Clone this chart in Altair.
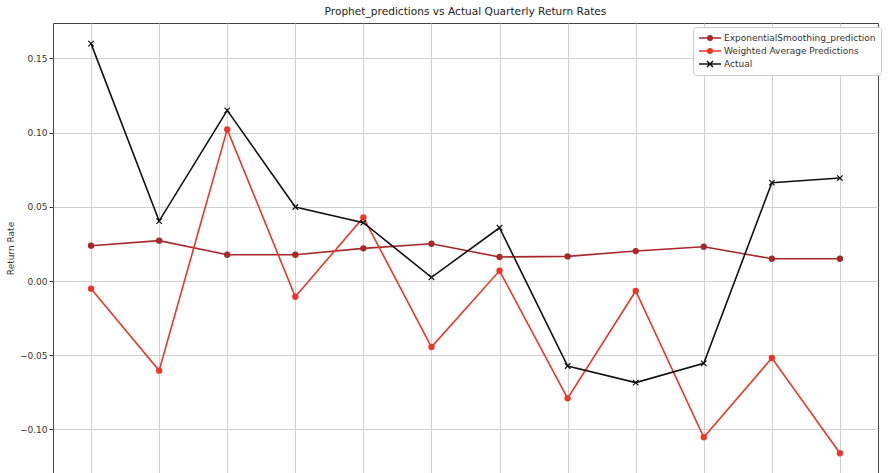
import altair as alt
import pandas as pd

quarters = list(range(12))
exp_smoothing = [0.0238, 0.0272, 0.0177, 0.0177, 0.0220, 0.0251, 0.0162, 0.0166, 0.0202, 0.0231, 0.0150, 0.0150]
weighted_avg = [-0.0052, -0.0604, 0.1022, -0.0106, 0.0429, -0.0445, 0.0069, -0.0791, -0.0067, -0.1053, -0.0519, -0.1161]
actual = [0.160, 0.0404, 0.115, 0.0499, 0.0393, 0.0025, 0.0359, -0.0573, -0.0685, -0.0555, 0.0663, 0.0694]

series_names = ["ExponentialSmoothing_prediction", "Weighted Average Predictions", "Actual"]
series_colors = ["#a8282a", "#ee3529", "#111111"]
y_ticks = [-0.10, -0.05, 0.0, 0.05, 0.10, 0.15]

rows = []
for name, vals in zip(series_names, [exp_smoothing, weighted_avg, actual]):
    for q, v in zip(quarters, vals):
        rows.append({"quarter": q, "value": v, "series": name})
df = pd.DataFrame(rows)

FONT = "DejaVu Sans"

x_enc = alt.X("quarter:Q",
              scale=alt.Scale(domain=[-0.559, 11.559], nice=False, zero=False),
              axis=alt.Axis(values=quarters, labels=False, ticks=False, domain=False,
                            grid=True, gridColor="#d0d0d0", gridWidth=1, title=None))
y_enc = alt.Y("value:Q",
              scale=alt.Scale(domain=[-0.1294, 0.1739], nice=False, zero=False),
              axis=alt.Axis(values=y_ticks, format=".2f", grid=True, gridColor="#d0d0d0",
                            gridWidth=1, domain=False, tickSize=4, tickColor="#333",
                            labelFontSize=9, labelColor="#333", labelFont=FONT, labelPadding=2,
                            title="Return Rate", titleFontSize=9, titleFont=FONT,
                            titleFontWeight="normal", titleColor="#333",
                            titleX=-43, titleY=225, titleAngle=-90,
                            titleAlign="center", titleBaseline="middle"))

color_scale = alt.Scale(domain=series_names, range=series_colors)
color_nolegend = alt.Color("series:N", scale=color_scale, legend=None)

lines = alt.Chart(df).mark_line(strokeWidth=1.6).encode(
    x=x_enc, y=y_enc, color=color_nolegend, detail="series:N"
)

circles = alt.Chart(df).transform_filter(
    alt.datum.series != "Actual"
).mark_point(filled=True, shape="circle", size=40, opacity=1).encode(
    x="quarter:Q", y="value:Q", color=color_nolegend
)

x_path = "M-1,-1L1,1M-1,1L1,-1"
crosses = alt.Chart(df).transform_filter(
    alt.datum.series == "Actual"
).mark_point(filled=False, shape=x_path, size=30, strokeWidth=1.2, opacity=1).encode(
    x="quarter:Q", y="value:Q", color=color_nolegend
)

circ_legend = ("M-2.2,0H2.2"
               "M0.45,0A0.45,0.45,0,1,1,-0.45,0A0.45,0.45,0,1,1,0.45,0"
               "M0.25,0A0.25,0.25,0,1,1,-0.25,0A0.25,0.25,0,1,1,0.25,0"
               "M0.06,0A0.06,0.06,0,1,1,-0.06,0A0.06,0.06,0,1,1,0.06,0")
x_legend = "M-2.2,0H2.2M-0.6,-0.6L0.6,0.6M-0.6,0.6L0.6,-0.6"

legend_def = alt.Legend(title=None, orient="none", legendX=640, legendY=4,
                        symbolSize=100, symbolStrokeWidth=1.5, labelFontSize=9,
                        labelFont=FONT, labelColor="#333", labelOffset=8,
                        labelLimit=400, fillColor="white", strokeColor="#cccccc",
                        cornerRadius=3, padding=5, rowPadding=1, symbolOffset=6)

legend_layer = alt.Chart(df).mark_point(filled=False, opacity=0, strokeWidth=1.5).encode(
    x="quarter:Q", y="value:Q",
    color=alt.Color("series:N", scale=color_scale, legend=legend_def),
    shape=alt.Shape("series:N",
                    scale=alt.Scale(domain=series_names, range=[circ_legend, circ_legend, x_legend]),
                    legend=legend_def),
)

chart = alt.layer(lines, circles, crosses, legend_layer).resolve_legend(
    color="independent", shape="independent"
).properties(
    width=825, height=450,
    title=alt.Title("Prophet_predictions vs Actual Quarterly Return Rates",
                    fontSize=10.6, font=FONT, fontWeight="normal", color="#222",
                    anchor="middle", offset=5),
    autosize=alt.AutoSizeParams(type="none"),
    padding={"left": 53, "top": 23, "right": 13, "bottom": 0},
    view=alt.ViewBackground(stroke="#444", strokeWidth=1, fill="white"),
).configure(background="white")

chart.save("out.html", embed_options={"renderer": "svg", "actions": False})
